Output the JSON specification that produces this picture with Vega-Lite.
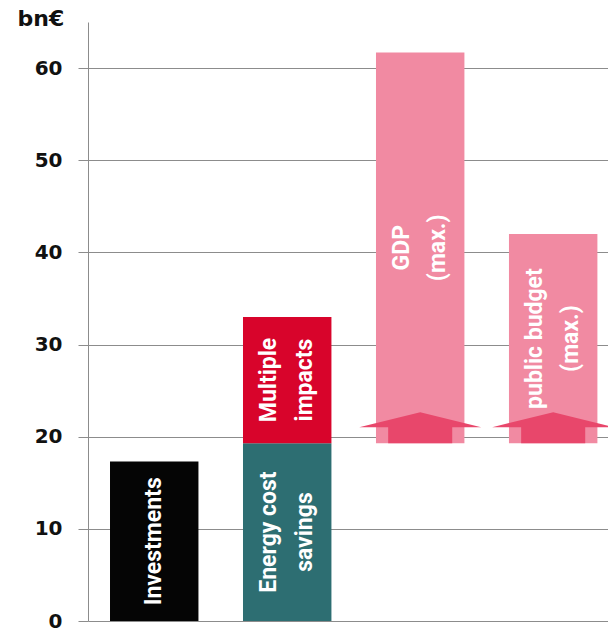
{
  "$schema": "https://vega.github.io/schema/vega-lite/v6.json",
  "autosize": "none",
  "padding": {"left": 88, "top": 22, "right": 0, "bottom": 14},
  "width": 520,
  "height": 599,
  "background": "white",
  "config": {"view": {"stroke": null}},
  "datasets": {
    "bars": [
      {"item": "Investments", "segment": "Investments", "label": "Investments", "y0": 0, "y1": 17.3},
      {"item": "Savings", "segment": "Energy cost savings", "label": "Energy cost\nsavings", "y0": 0, "y1": 19.3},
      {"item": "Savings", "segment": "Multiple impacts", "label": "Multiple\nimpacts", "y0": 19.3, "y1": 33.0},
      {"item": "GDP", "segment": "GDP (max.)", "label": "GDP\n(max.)", "y0": 19.3, "y1": 61.7},
      {"item": "Public budget", "segment": "public budget (max.)", "label": "public budget\n(max.)", "y0": 19.3, "y1": 42.0}
    ],
    "arrows": [
      {"item": "GDP", "base": 19.3},
      {"item": "Public budget", "base": 19.3}
    ]
  },
  "encoding": {
    "x": {
      "field": "item",
      "type": "nominal",
      "sort": ["Investments", "Savings", "GDP", "Public budget"],
      "scale": {"domain": ["Investments", "Savings", "GDP", "Public budget"], "paddingInner": 0.335, "paddingOuter": 0.1226, "align": 0.675},
      "axis": null
    }
  },
  "layer": [
    {
      "data": {"name": "bars"},
      "mark": {"type": "bar"},
      "encoding": {
        "y": {
          "field": "y0",
          "type": "quantitative",
          "scale": {"domain": [0, 65], "nice": false, "zero": true},
          "axis": {
            "title": "bn€",
            "titleAngle": 0,
            "titleAlign": "left",
            "titleBaseline": "top",
            "titleX": -71,
            "titleY": -14,
            "titleFont": "DejaVu Sans",
            "titleFontSize": 22,
            "titleFontWeight": "bold",
            "titleColor": "#111111",
            "values": [0, 10, 20, 30, 40, 50, 60],
            "grid": true,
            "gridColor": "#8c8c8c",
            "gridOpacity": 1,
            "domainColor": "#8c8c8c",
            "tickColor": "#8c8c8c",
            "tickSize": 10,
            "labelPadding": 16,
            "labelFont": "DejaVu Sans",
            "labelFontSize": 20,
            "labelFontWeight": "bold",
            "labelColor": "#111111"
          }
        },
        "y2": {"field": "y1"},
        "color": {
          "field": "segment",
          "type": "nominal",
          "scale": {
            "domain": ["Investments", "Energy cost savings", "Multiple impacts", "GDP (max.)", "public budget (max.)"],
            "range": ["#050505", "#2d6e72", "#d8042b", "#f18aa2", "#f18aa2"]
          },
          "legend": null
        }
      }
    },
    {
      "data": {"name": "arrows"},
      "mark": {
        "type": "point",
        "shape": "M -0.525 0 L 0.525 0 L 0.525 -0.262 L 1 -0.262 L 0 -0.508 L -1 -0.262 L -0.525 -0.262 Z",
        "filled": true,
        "size": 14884,
        "color": "#e8476b",
        "opacity": 1,
        "strokeWidth": 0
      },
      "encoding": {
        "y": {"field": "base", "type": "quantitative"}
      }
    },
    {
      "data": {"name": "bars"},
      "transform": [
        {"filter": "indexof(datum.label, '\\n') < 0"},
        {"fold": ["y0", "y1"], "as": ["edge", "v"]}
      ],
      "mark": {
        "type": "text",
        "angle": 270,
        "align": "center",
        "baseline": "middle",
        "font": "Roboto",
        "fontSize": 23,
        "fontWeight": "bold",
        "color": "#ffffff"
      },
      "encoding": {
        "y": {"aggregate": "mean", "field": "v", "type": "quantitative"},
        "text": {"field": "label"}
      }
    },
    {
      "data": {"name": "bars"},
      "transform": [
        {"filter": "indexof(datum.label, '\\n') >= 0"},
        {"fold": ["y0", "y1"], "as": ["edge", "v"]}
      ],
      "mark": {
        "type": "text",
        "angle": 270,
        "align": "center",
        "baseline": "middle",
        "lineBreak": "\n",
        "font": "Roboto",
        "fontSize": 23,
        "fontWeight": "bold",
        "lineHeight": 36,
        "dy": -18,
        "color": "#ffffff"
      },
      "encoding": {
        "y": {"aggregate": "mean", "field": "v", "type": "quantitative"},
        "text": {"field": "label"}
      }
    }
  ]
}
